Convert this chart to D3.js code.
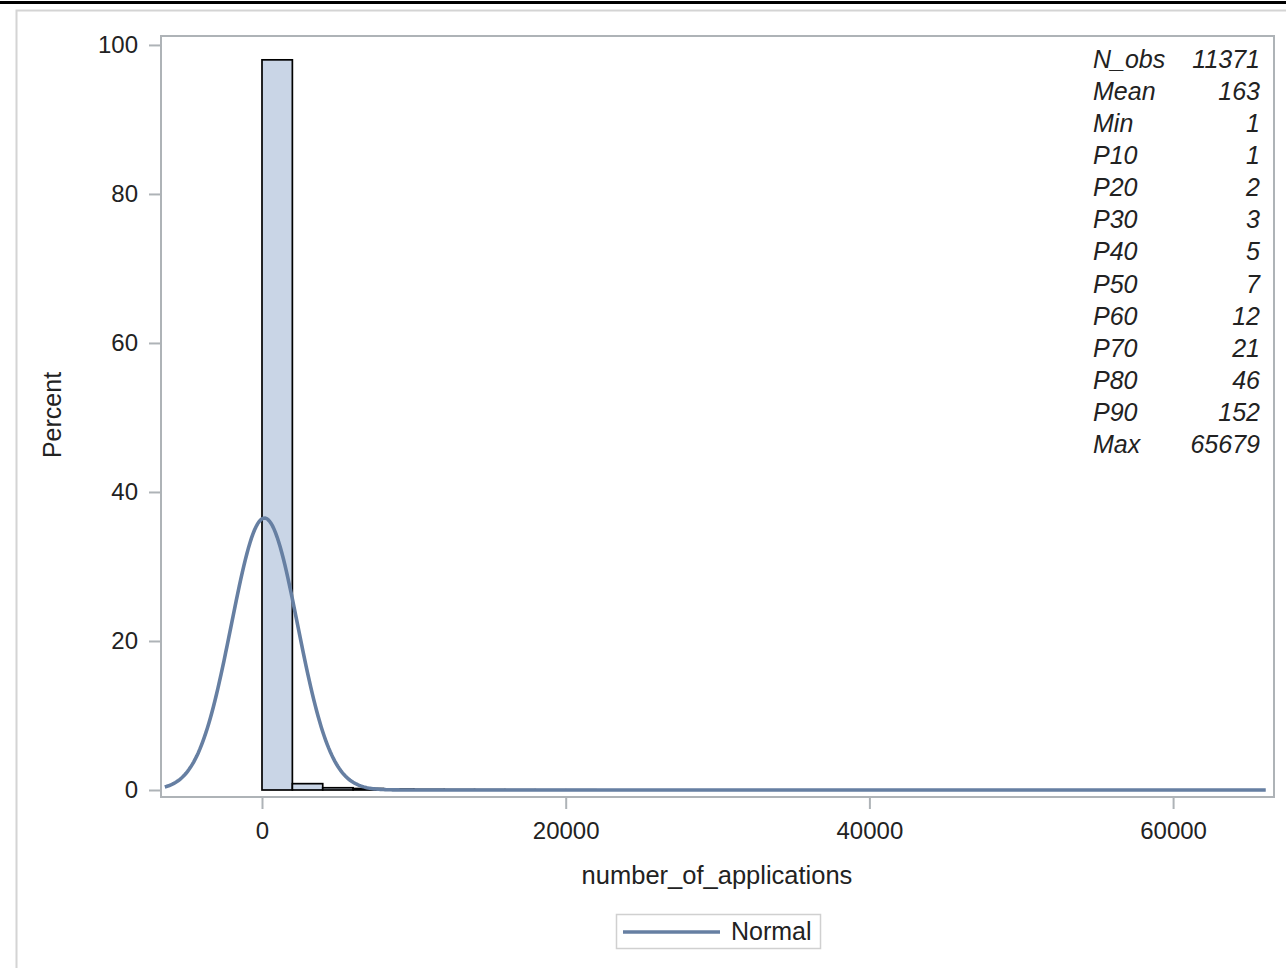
<!DOCTYPE html>
<html>
<head>
<meta charset="utf-8">
<script src="https://cdn.jsdelivr.net/npm/d3@7/dist/d3.min.js"></script>
<style>
    body { margin: 0; background: #fff; }
    svg { display: block; font-family: "Liberation Sans", Arial, sans-serif; }
</style>
</head>
<body>
<svg id="chart" width="1286" height="968"></svg>
<script>
// histogram bins (width 2000, starting at 0) and percent per bin
var binWidth = 2000;
var binStarts = [0, 2000, 4000, 6000, 8000, 10000, 12000, 14000, 16000, 18000, 20000,
    22000, 24000, 26000, 28000, 30000, 32000, 34000, 36000, 38000, 40000, 42000,
    44000, 46000, 48000, 50000, 52000, 54000, 56000, 58000, 60000, 62000, 64000];
var binPercent = [98.0, 0.85, 0.3, 0.2, 0.12, 0.08, 0.06, 0.05, 0.04, 0.03, 0.03,
    0.02, 0.02, 0.02, 0.01, 0.01, 0.01, 0.01, 0.01, 0.01, 0, 0.01,
    0, 0.01, 0, 0, 0.01, 0, 0, 0, 0, 0, 0.01];

// normal fit parameters
var normalMean = 163;
var normalStd = 2186;

// tick labels
var xTicks = [0, 20000, 40000, 60000];
var yTicks = [0, 20, 40, 60, 80, 100];

// statistics inset
var statLabels = ["N_obs", "Mean", "Min", "P10", "P20", "P30", "P40", "P50", "P60", "P70", "P80", "P90", "Max"];
var statValues = ["11371", "163", "1", "1", "2", "3", "5", "7", "12", "21", "46", "152", "65679"];

var svg = d3.select("#chart");

var plot = { left: 161, right: 1274, top: 36, bottom: 797 };
var fitColor = "#667fa2";
var frameColor = "#aeb3b7";

// top rule and outer frame
svg.append("rect").attr("x", 0).attr("y", 1).attr("width", 1286).attr("height", 3).attr("fill", "#000");
svg.append("rect")
    .attr("x", 16.5).attr("y", 10.5).attr("width", 1300).attr("height", 1000)
    .attr("fill", "none").attr("stroke", "#d4d4d4").attr("stroke-width", 2);

var x = d3.scaleLinear()
    .domain([-6651, 66645])
    .range([plot.left, plot.right]);

var y = d3.scaleLinear()
    .domain([-0.94, 101.2])
    .range([plot.bottom, plot.top]);

var data = binStarts.map(function (s, i) {
    return { x0: s, x1: s + binWidth, pct: binPercent[i] };
});

// bars
svg.append("g")
    .selectAll("rect")
    .data(data)
    .enter().append("rect")
    .attr("x", function (d) { return x(d.x0); })
    .attr("width", function (d) { return x(d.x1) - x(d.x0); })
    .attr("y", function (d) { return y(d.pct); })
    .attr("height", function (d) { return y(0) - y(d.pct); })
    .attr("fill", "#c9d5e6")
    .attr("stroke", "#000")
    .attr("stroke-width", 1.7);

// normal curve (percent scaled by bin width)
var curvePts = d3.range(-6400, 66200, 100).map(function (v) {
    var z = (v - normalMean) / normalStd;
    return [v, 100 * binWidth * Math.exp(-0.5 * z * z) / (normalStd * Math.sqrt(2 * Math.PI))];
});

svg.append("path")
    .datum(curvePts)
    .attr("fill", "none")
    .attr("stroke", fitColor)
    .attr("stroke-width", 3.6)
    .attr("d", d3.line()
        .x(function (d) { return x(d[0]); })
        .y(function (d) { return y(d[1]); }));

// plot frame
svg.append("rect")
    .attr("x", plot.left).attr("y", plot.top)
    .attr("width", plot.right - plot.left).attr("height", plot.bottom - plot.top)
    .attr("fill", "none").attr("stroke", frameColor).attr("stroke-width", 2);

// axes
var axisY = svg.append("g")
    .attr("transform", "translate(" + plot.left + ",0)")
    .call(d3.axisLeft(y).tickValues(yTicks).tickSize(12).tickPadding(11));

var axisX = svg.append("g")
    .attr("transform", "translate(0," + plot.bottom + ")")
    .call(d3.axisBottom(x).tickValues(xTicks).tickSize(12).tickPadding(13).tickFormat(d3.format("d")));

[axisX, axisY].forEach(function (a) {
    a.select(".domain").remove();
    a.selectAll("line").attr("stroke", frameColor).attr("stroke-width", 2);
    a.selectAll("text").attr("fill", "#222").style("font-size", "24px");
});

// axis labels
svg.append("text")
    .attr("x", 717).attr("y", 884)
    .attr("text-anchor", "middle").attr("fill", "#222").style("font-size", "25.5px")
    .text("number_of_applications");

svg.append("text")
    .attr("transform", "translate(61,415) rotate(-90)")
    .attr("text-anchor", "middle").attr("fill", "#222").style("font-size", "25px")
    .text("Percent");

// statistics inset
var stats = svg.append("g").style("font-size", "25px").style("font-style", "italic").attr("fill", "#222");
statLabels.forEach(function (lab, i) {
    var yy = 68 + i * 32.08;
    stats.append("text").attr("x", 1093).attr("y", yy).text(lab);
    stats.append("text").attr("x", 1260).attr("y", yy).attr("text-anchor", "end").text(statValues[i]);
});

// legend
var legend = svg.append("g");
legend.append("rect")
    .attr("x", 616.5).attr("y", 914.5).attr("width", 204).attr("height", 34)
    .attr("fill", "#fff").attr("stroke", "#d0d0d0").attr("stroke-width", 1.5);
legend.append("line")
    .attr("x1", 623).attr("x2", 720).attr("y1", 932).attr("y2", 932)
    .attr("stroke", fitColor).attr("stroke-width", 3.6);
legend.append("text")
    .attr("x", 731).attr("y", 940).attr("fill", "#222").style("font-size", "25px")
    .text("Normal");
</script>
</body>
</html>
